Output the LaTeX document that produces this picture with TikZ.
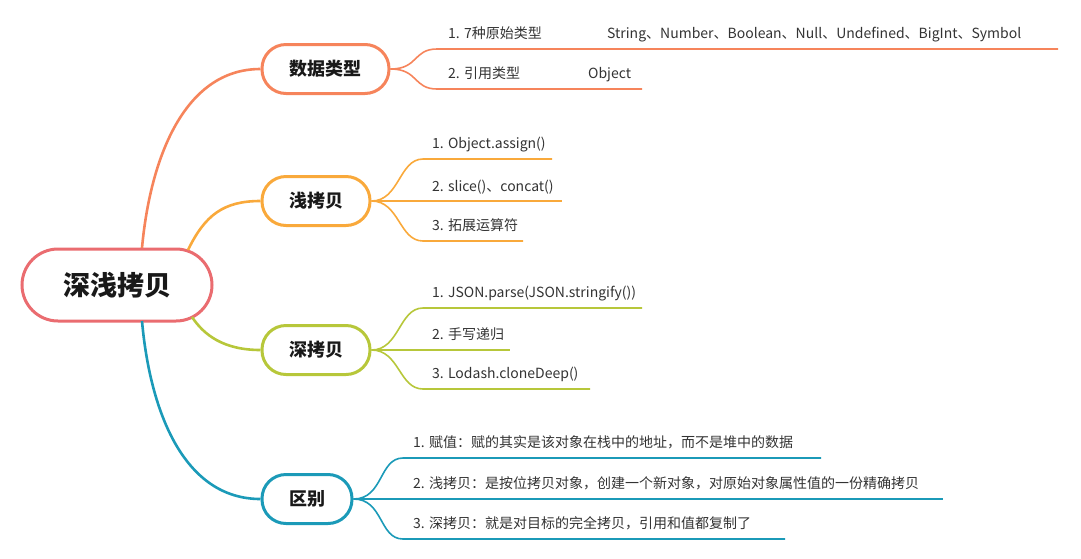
\documentclass[tikz,border=0pt]{standalone}
\usepackage{fontspec}
\setmainfont{Noto Sans CJK SC}
\usetikzlibrary{positioning}
\definecolor{rootred}{HTML}{EA6C70}
\definecolor{typeorange}{HTML}{F6845B}
\definecolor{shallowyellow}{HTML}{F9A93B}
\definecolor{deepgreen}{HTML}{B7C73A}
\definecolor{diffteal}{HTML}{1B9AB8}
\definecolor{inkgray}{HTML}{333333}

\begin{document}
\begin{tikzpicture}[x=1pt, y=-1pt,
    topic/.style={draw, line width=3pt, fill=white, rounded corners=24pt,
      minimum height=49pt, inner sep=0pt, text=black!90,
      font=\fontsize{18}{20}\selectfont\bfseries},
    item/.style={anchor=base west, inner sep=0pt, text=inkgray,
      font=\fontsize{14}{16}\selectfont},
    trunk/.style={line width=2.6pt},
    twig/.style={line width=1.6pt}]
  \useasboundingbox (0,0) rectangle (1081,558);

  % Root
  \node[draw=rootred, line width=3pt, fill=white, rounded corners=36pt,
    minimum width=190pt, minimum height=72pt, text=black!90,
    font=\fontsize{27}{30}\selectfont\bfseries] (root) at (117,285) {深浅拷贝};

  % Topics
  \node[topic, draw=typeorange, minimum width=127pt] (types) at (325.5,69) {数据类型};
  \node[topic, draw=shallowyellow, minimum width=108pt] (shallow) at (316,201) {浅拷贝};
  \node[topic, draw=deepgreen, minimum width=108pt] (deep) at (316,350) {深拷贝};
  \node[topic, draw=diffteal, minimum width=90pt] (diff) at (307,499) {区别};

  % Root to topics
  \draw[trunk, typeorange] ([shift={(25,-37)}]root.center) .. controls +(8,-88) and +(-77,0) .. (types.west);
  \draw[trunk, shallowyellow] ([shift={(71,-35)}]root.center) .. controls +(17,-35) and +(-37,0) .. (shallow.west);
  \draw[trunk, deepgreen] ([shift={(75,32)}]root.center) .. controls +(12,18) and +(-37,0) .. (deep.west);
  \draw[trunk, diffteal] ([shift={(25,36)}]root.center) .. controls +(8,90) and +(-77,0) .. (diff.west);

  % Data types
  \coordinate (t1s) at (437,49); \coordinate (t1e) at (1058,49);
  \coordinate (t2s) at (437,89); \coordinate (t2e) at (642,89);
  \node[item] (t1) at (448,38.5) {1. 7种原始类型};
  \node[item] (t1v) at (607,38.5) {String、Number、Boolean、Null、Undefined、BigInt、Symbol};
  \node[item] (t2) at (448,78.5) {2. 引用类型};
  \node[item] (t2v) at (588,78.5) {Object};
  \draw[twig, typeorange] (types.east) .. controls +(28,0) and +(-24,0) .. (t1s) -- (t1e);
  \draw[twig, typeorange] (types.east) .. controls +(28,0) and +(-24,0) .. (t2s) -- (t2e);

  % Shallow copy
  \coordinate (s1s) at (423,159); \coordinate (s1e) at (552,159);
  \coordinate (s2e) at (562,201);
  \coordinate (s3s) at (423,241); \coordinate (s3e) at (523,241);
  \node[item] (s1) at (432,148.5) {1. Object.assign()};
  \node[item] (s2) at (432,191) {2. slice()、concat()};
  \node[item] (s3) at (432,230.5) {3. 拓展运算符};
  \draw[twig, shallowyellow] (shallow.east) .. controls +(28,0) and +(-24,0) .. (s1s) -- (s1e);
  \draw[twig, shallowyellow] (shallow.east) -- (s2e);
  \draw[twig, shallowyellow] (shallow.east) .. controls +(28,0) and +(-24,0) .. (s3s) -- (s3e);

  % Deep copy
  \coordinate (d1s) at (423,308); \coordinate (d1e) at (642,308);
  \coordinate (d2e) at (510,350);
  \coordinate (d3s) at (423,389); \coordinate (d3e) at (590,389);
  \node[item] (d1) at (432,297.5) {1. JSON.parse(JSON.stringify())};
  \node[item] (d2) at (432,339.5) {2. 手写递归};
  \node[item] (d3) at (432,378.5) {3. Lodash.cloneDeep()};
  \draw[twig, deepgreen] (deep.east) .. controls +(28,0) and +(-24,0) .. (d1s) -- (d1e);
  \draw[twig, deepgreen] (deep.east) -- (d2e);
  \draw[twig, deepgreen] (deep.east) .. controls +(28,0) and +(-24,0) .. (d3s) -- (d3e);

  % Difference
  \coordinate (f1s) at (403,458); \coordinate (f1e) at (821,458);
  \coordinate (f2e) at (943,499);
  \coordinate (f3s) at (403,539); \coordinate (f3e) at (785,539);
  \node[item] (f1) at (413,447.5) {1. 赋值：赋的其实是该对象在栈中的地址，而不是堆中的数据};
  \node[item] (f2) at (413,488.5) {2. 浅拷贝：是按位拷贝对象，创建一个新对象，对原始对象属性值的一份精确拷贝};
  \node[item] (f3) at (413,528.5) {3. 深拷贝：就是对目标的完全拷贝，引用和值都复制了};
  \draw[twig, diffteal] (diff.east) .. controls +(30,0) and +(-24,0) .. (f1s) -- (f1e);
  \draw[twig, diffteal] (diff.east) -- (f2e);
  \draw[twig, diffteal] (diff.east) .. controls +(30,0) and +(-24,0) .. (f3s) -- (f3e);
\end{tikzpicture}
\end{document}
